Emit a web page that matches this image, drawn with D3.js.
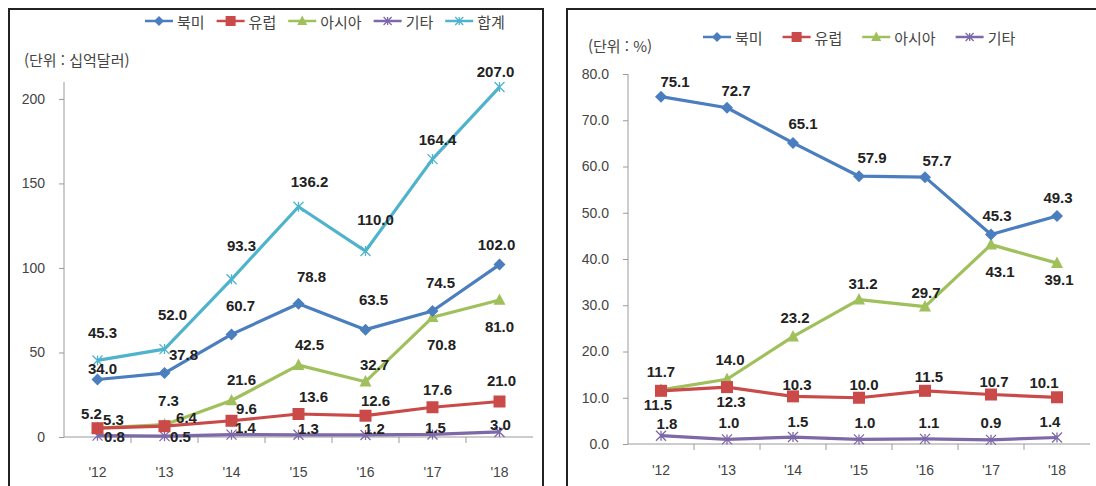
<!DOCTYPE html>
<html lang="ko">
<head>
<meta charset="utf-8">
<script src="https://cdn.jsdelivr.net/npm/d3@7/dist/d3.min.js"></script>
<style>
  html, body { margin: 0; padding: 0; background: #fff; }
  svg { display: block; }
  .tick-label { font-family: "Liberation Sans Narrow", "Liberation Sans", Arial, sans-serif; fill: #444; font-size: 14px; }
  .data-label { font-family: "Liberation Sans Narrow", "Liberation Sans", Arial, sans-serif; font-weight: bold; fill: #222; font-size: 15px; }
  .legend-text, .unit-text { font-family: "Noto Sans CJK KR", sans-serif; fill: #444; font-size: 15px; }
</style>
</head>
<body>
<svg id="chart" width="1096" height="486"></svg>
<script>
// ---- data ----
const years = ["'12", "'13", "'14", "'15", "'16", "'17", "'18"];

// 투자 금액 (십억달러)
const naAmount    = [34.0, 37.8, 60.7, 78.8, 63.5, 74.5, 102.0];
const euAmount    = [5.2, 6.4, 9.6, 13.6, 12.6, 17.6, 21.0];
const asiaAmount  = [5.3, 7.3, 21.6, 42.5, 32.7, 70.8, 81.0];
const etcAmount   = [0.8, 0.5, 1.4, 1.3, 1.2, 1.5, 3.0];
const totalAmount = [45.3, 52.0, 93.3, 136.2, 110.0, 164.4, 207.0];
const amountTicks = [0, 50, 100, 150, 200];

// 지역별 비중 (%)
const naShare   = [75.1, 72.7, 65.1, 57.9, 57.7, 45.3, 49.3];
const euShare   = [11.5, 12.3, 10.3, 10.0, 11.5, 10.7, 10.1];
const asiaShare = [11.7, 14.0, 23.2, 31.2, 29.7, 43.1, 39.1];
const etcShare  = [1.8, 1.0, 1.5, 1.0, 1.1, 0.9, 1.4];
const shareTicks = [0, 10, 20, 30, 40, 50, 60, 70, 80];

// ---- series styling ----
const style = {
  "북미": { color: "#4a7ebf", marker: "diamond" },
  "유럽": { color: "#c94a48", marker: "square" },
  "아시아": { color: "#9fc05a", marker: "triangle" },
  "기타": { color: "#7d68a8", marker: "cross" },
  "합계": { color: "#4fb3cc", marker: "cross" }
};

// label nudges (dx, dy) relative to each point, by series
const amountLabelNudge = {
  "합계": [[5,-28],[8,-35],[10,-34],[11,-25],[10,-32],[5,-20],[-4,-16]],
  "북미": [[5,-11],[19,-19],[9,-29],[13,-27],[8,-30],[8,-29],[-3,-20]],
  "아시아": [[16,-9],[4,-24],[10,-21],[11,-21],[9,-17],[9,27],[0,26]],
  "유럽": [[-6,-15],[22,-9],[15,-12],[15,-18],[10,-15],[5,-18],[2,-21]],
  "기타": [[17,1],[16,0],[14,-7],[10,-6],[9,-6],[3,-7],[1,-7]]
};
const shareLabelNudge = {
  "북미": [[14,-15],[9,-17],[10,-19],[13,-19],[12,-17],[6,-19],[1,-18]],
  "아시아": [[0,-18],[3,-20],[2,-19],[4,-16],[1,-14],[9,27],[2,16]],
  "유럽": [[-3,14],[4,14],[4,-12],[5,-13],[4,-14],[3,-13],[-13,-15]],
  "기타": [[6,-12],[2,-17],[5,-16],[6,-17],[4,-16],[0,-17],[-7,-16]]
};

const svg = d3.select("#chart");

function marker(g, type, x, y, color, size) {
  const s = size;
  if (type === "diamond") {
    g.append("path").attr("d", `M${x},${y - s}L${x + s},${y}L${x},${y + s}L${x - s},${y}Z`).attr("fill", color);
  } else if (type === "square") {
    g.append("rect").attr("x", x - s).attr("y", y - s).attr("width", 2 * s).attr("height", 2 * s).attr("fill", color);
  } else if (type === "triangle") {
    g.append("path").attr("d", `M${x},${y - s * 1.1}L${x + s},${y + s * 0.8}L${x - s},${y + s * 0.8}Z`).attr("fill", color);
  } else {
    g.append("path").attr("d", `M${x - s},${y - s}L${x + s},${y + s}M${x - s},${y + s}L${x + s},${y - s}M${x},${y - s}L${x},${y + s}`)
      .attr("stroke", color).attr("stroke-width", 1.3).attr("fill", "none");
  }
}

function drawPanel(cfg) {
  const g = svg.append("g");
  // panel frame
  g.append("path").attr("d", cfg.frame).attr("fill", "none").attr("stroke", "#222").attr("stroke-width", 2);

  const x = d3.scaleBand().domain(years).range([cfg.x0, cfg.x1]);
  const y = d3.scaleLinear().domain(cfg.yDomain).range([cfg.y0, cfg.yTop]);
  const cx = d => x(d) + x.bandwidth() / 2;

  // y axis
  const yAxis = d3.axisLeft(y).tickValues(cfg.ticks).tickFormat(cfg.fmt).tickSize(5).tickPadding(cfg.tickPad);
  const ya = g.append("g").attr("transform", `translate(${cfg.x0},0)`).call(yAxis);
  ya.select(".domain").attr("stroke", "#9a9a9a").attr("d", `M0,${y(cfg.yDomain[1])}V${cfg.y0}`);
  ya.selectAll(".tick line").attr("stroke", "#9a9a9a");
  ya.selectAll(".tick text").attr("class", "tick-label").attr("fill", null);

  // x axis (category ticks between bands)
  const xa = g.append("g").attr("transform", `translate(0,${cfg.y0})`);
  xa.append("line").attr("x1", cfg.x0).attr("x2", cfg.x1).attr("stroke", "#9a9a9a");
  years.forEach((yr, i) => {
    if (i > 0) xa.append("line").attr("x1", x(yr)).attr("x2", x(yr)).attr("y1", 0).attr("y2", 6).attr("stroke", "#9a9a9a");
    xa.append("text").attr("class", "tick-label").attr("x", cx(yr)).attr("y", cfg.xLabelY - cfg.y0)
      .attr("text-anchor", "middle").attr("dominant-baseline", "central").text(yr);
  });

  // series lines and markers
  const line = d3.line().x((d, i) => cx(years[i])).y(d => y(d));
  cfg.series.forEach(s => {
    const st = style[s.name];
    g.append("path").datum(s.values).attr("d", line).attr("fill", "none")
      .attr("stroke", st.color).attr("stroke-width", 3.2).attr("stroke-linejoin", "round");
    const mg = g.append("g");
    s.values.forEach((v, i) => marker(mg, st.marker, cx(years[i]), y(v), st.color, st.marker === "cross" ? 5 : 6));
  });

  // data labels
  cfg.series.forEach(s => {
    const nudge = cfg.nudge[s.name];
    s.values.forEach((v, i) => {
      g.append("text").attr("class", "data-label")
        .attr("x", cx(years[i]) + nudge[i][0]).attr("y", y(v) + nudge[i][1])
        .attr("text-anchor", "middle").attr("dominant-baseline", "central")
        .text(v.toFixed(1));
    });
  });

  // unit label
  g.append("text").attr("class", "unit-text").attr("x", cfg.unit.x).attr("y", cfg.unit.y)
    .attr("dominant-baseline", "central").text(cfg.unit.text);

  // legend
  let lx = cfg.legend.x;
  cfg.series.slice().sort((a, b) => a.order - b.order).forEach(s => {
    const st = style[s.name];
    const lg = g.append("g");
    lg.append("line").attr("x1", lx).attr("x2", lx + 28).attr("y1", cfg.legend.y).attr("y2", cfg.legend.y)
      .attr("stroke", st.color).attr("stroke-width", 2.5);
    marker(lg, st.marker, lx + 14, cfg.legend.y, st.color, st.marker === "cross" ? 4 : 5);
    const t = lg.append("text").attr("class", "legend-text").attr("x", lx + 32).attr("y", cfg.legend.y)
      .attr("dominant-baseline", "central").text(s.name);
    lx += 32 + t.node().getComputedTextLength() + cfg.legend.gap;
  });
}

drawPanel({
  frame: "M9,486V9H543V486",
  x0: 64, x1: 533, y0: 437, yTop: 82, yDomain: [0, 210],
  ticks: amountTicks, fmt: d3.format("d"), tickPad: 14,
  xLabelY: 472,
  series: [
    { name: "합계", values: totalAmount, order: 4 },
    { name: "기타", values: etcAmount, order: 3 },
    { name: "아시아", values: asiaAmount, order: 2 },
    { name: "유럽", values: euAmount, order: 1 },
    { name: "북미", values: naAmount, order: 0 }
  ],
  nudge: amountLabelNudge,
  unit: { x: 24, y: 59, text: "(단위 : 십억달러)" },
  legend: { x: 145, y: 21, gap: 12 }
});

drawPanel({
  frame: "M567,486V9H1096",
  x0: 628, x1: 1090, y0: 444, yTop: 74, yDomain: [0, 80],
  ticks: shareTicks, fmt: d3.format(".1f"), tickPad: 14,
  xLabelY: 470,
  series: [
    { name: "기타", values: etcShare, order: 3 },
    { name: "아시아", values: asiaShare, order: 2 },
    { name: "유럽", values: euShare, order: 1 },
    { name: "북미", values: naShare, order: 0 }
  ],
  nudge: shareLabelNudge,
  unit: { x: 588, y: 45, text: "(단위 : %)" },
  legend: { x: 703, y: 37, gap: 20 }
});
</script>
</body>
</html>
